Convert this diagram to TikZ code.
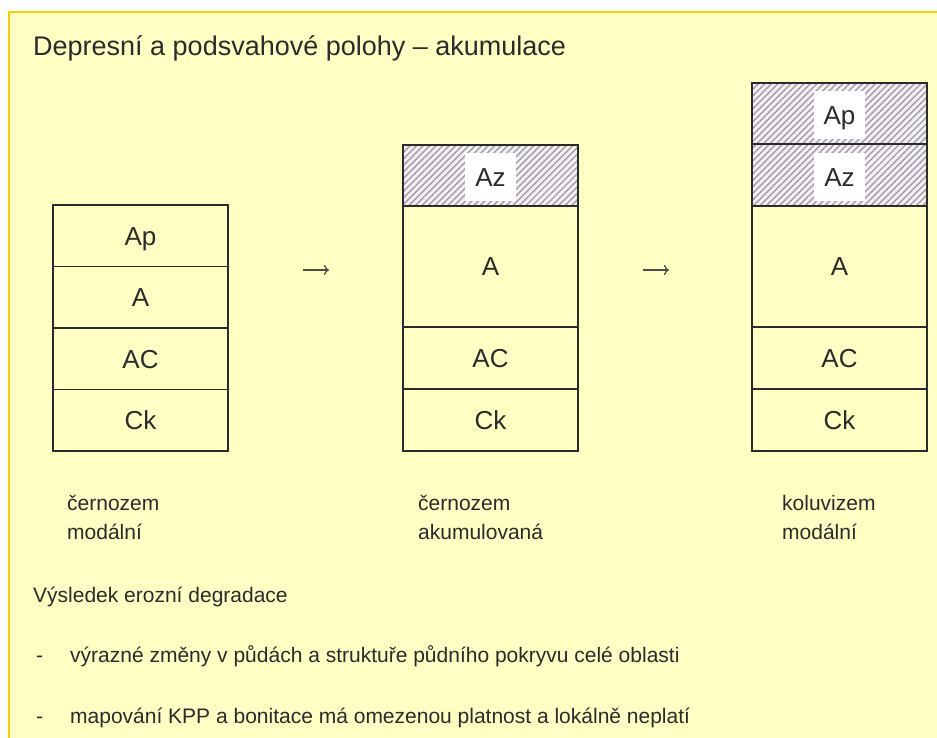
\documentclass[tikz,border=0pt]{standalone}
\usepackage{fontspec}
\setmainfont{Liberation Sans}
\usetikzlibrary{patterns.meta,arrows.meta}
\definecolor{panel}{HTML}{FFFFC4}
\definecolor{rim}{HTML}{FFCC00}
\definecolor{ink}{HTML}{2B2B2B}
\definecolor{hatchbg}{HTML}{F3F0F2}
\definecolor{hatchfg}{HTML}{A39AAE}
\begin{document}
\begin{tikzpicture}[x=1pt,y=-1pt,
  horizon/.style={rectangle, draw=ink, line width=1.3pt, inner sep=0pt, outer sep=0pt,
    minimum width=175pt, anchor=north west, text=ink,
    font=\fontsize{26}{26}\selectfont, text height=19pt, text depth=0pt},
  hatched/.style={horizon, preaction={fill=hatchbg},
    pattern={Lines[angle=45,distance=4.6pt,line width=1.4pt]}, pattern color=hatchfg},
  tag/.style={rectangle, fill=white, inner sep=0pt, minimum width=51pt, minimum height=48pt,
    text=ink, font=\fontsize{26}{26}\selectfont, text height=19pt, text depth=0pt},
  profile/.style={draw=ink, line width=2.6pt},
  caption/.style={anchor=base west, align=left, text=ink, inner sep=0pt,
    font=\fontsize{21}{29}\selectfont},
  bodytext/.style={anchor=base west, text=ink, inner sep=0pt, font=\fontsize{21}{21}\selectfont},
  step arrow/.style={draw=ink!85, line width=1.3pt, -{To[length=5pt,width=10pt]}}
]
\useasboundingbox (0,0) rectangle (937,738);
% page and yellow panel
\fill[white] (0,0) rectangle (937,738);
\fill[panel] (9,12) rectangle (937,738);
\draw[rim, line width=2.6pt] (9,738) -- (9,12) -- (937,12);

% title
\node[anchor=base west, text=ink, inner sep=0pt, font=\fontsize{27}{27}\selectfont]
  (title) at (33,56) {Depresní a podsvahové polohy – akumulace};

% profile 1: černozem modální
\node[horizon, minimum height=61.5pt] (p1ap) at (53,205)   {Ap};
\node[horizon, minimum height=61.5pt] (p1a)  at (53,266.5) {A};
\node[horizon, minimum height=61.5pt] (p1ac) at (53,328)   {AC};
\node[horizon, minimum height=61.5pt] (p1ck) at (53,389.5) {Ck};
\draw[profile] (p1ap.north west) rectangle (p1ck.south east);

% profile 2: černozem akumulovaná
\node[hatched, minimum height=61pt]  (p2az) at (403,145) {};
\node[horizon, minimum height=121pt] (p2a)  at (403,206) {A};
\node[horizon, minimum height=62pt]  (p2ac) at (403,327) {AC};
\node[horizon, minimum height=62pt]  (p2ck) at (403,389) {Ck};
\node[tag] (p2azt) at ([yshift=-2pt]p2az.center) {Az};
\draw[profile] (p2az.north west) rectangle (p2ck.south east);

% profile 3: koluvizem modální
\node[hatched, minimum height=61pt]  (p3ap) at (752,83)  {};
\node[hatched, minimum height=62pt]  (p3az) at (752,144) {};
\node[horizon, minimum height=121pt] (p3a)  at (752,206) {A};
\node[horizon, minimum height=62pt]  (p3ac) at (752,327) {AC};
\node[horizon, minimum height=62pt]  (p3ck) at (752,389) {Ck};
\node[tag] (p3apt) at ([yshift=-2pt]p3ap.center) {Ap};
\node[tag] (p3azt) at ([yshift=-2pt]p3az.center) {Az};
\draw[profile] (p3ap.north west) rectangle (p3ck.south east);

% transitions between the profiles
\coordinate (t1s) at (303,270); \coordinate (t1e) at (329,270);
\coordinate (t2s) at (643,270); \coordinate (t2e) at (669,270);
\draw[step arrow] (t1s) -- (t1e);
\draw[step arrow] (t2s) -- (t2e);

% captions
\node[caption] (c1) at (67,539)  {černozem\\modální};
\node[caption] (c2) at (418,539) {černozem\\akumulovaná};
\node[caption] (c3) at (782,539) {koluvizem\\modální};

% conclusions
\node[bodytext] (res) at (33,602) {Výsledek erozní degradace};
\node[bodytext] (d1) at (36,662) {-};
\node[bodytext] (l1) at (70,662) {výrazné změny v půdách a struktuře půdního pokryvu celé oblasti};
\node[bodytext] (d2) at (36,723) {-};
\node[bodytext] (l2) at (70,723) {mapování KPP a bonitace má omezenou platnost a lokálně neplatí};
\end{tikzpicture}
\end{document}
